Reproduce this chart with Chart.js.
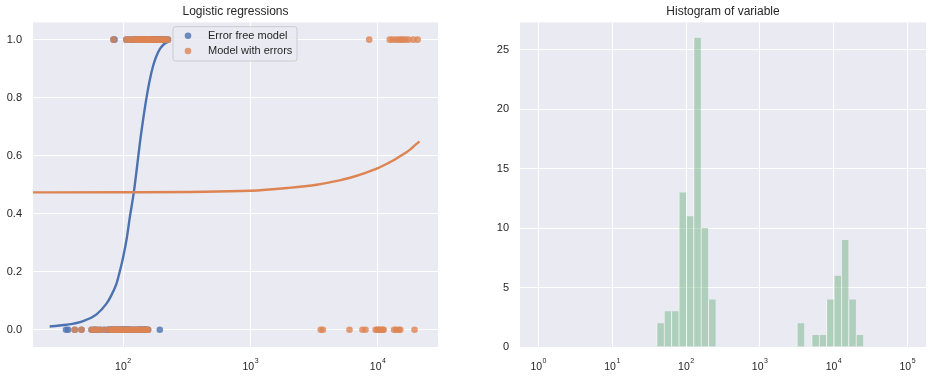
<!DOCTYPE html>
<html><head><meta charset="utf-8">
<script src="https://cdn.jsdelivr.net/npm/chart.js@4/dist/chart.umd.min.js"></script>
<style>
html,body{margin:0;padding:0;background:#fff;}
#wrap{position:relative;width:932px;height:381px;}
.c{position:absolute;top:0;width:466px;height:381px;}
</style></head><body>
<div id="wrap">
<div class="c" style="left:0"><canvas id="left" width="466" height="381"></canvas></div>
<div class="c" style="left:466px"><canvas id="right" width="466" height="381"></canvas></div>
</div>
<script>
// ---------- data ----------
const seriesLabels = ['Error free model', 'Model with errors'];
const leftTitle = 'Logistic regressions';
const rightTitle = 'Histogram of variable';

// values recorded correctly (same in both models)
const cleanValues = [41.7,47.1,56.5,59.5,62.5,66,71,77,80.5,81.5,83,84,85,86.5,88,89.5,91,93,95,97,99,
  101,104,106,108,111,112,116,117,119,123,124,
  126.5,127,128,130,131,132,134,135,136,138,140,140.5,142,144,144.5,146,148,149,150,152,153,154,156,157,157.5,158,
  160,163,166,170,174,178,182,187,192,197,
  203,209,216,225];
const cleanOutcomes = [0,0,0,0,0,0,0,0,0,0,0,1,0,0,0,0,0,0,0,0,0,
  0,0,1,0,1,0,0,1,0,0,1,
  1,0,1,1,0,1,1,0,1,1,0,1,1,0,1,1,1,0,1,1,0,1,1,0,1,1,
  1,1,1,1,1,1,1,1,1,1,
  1,1,1,1];
// values with recording errors: true value and recorded value
const errorTrueValues = [35.6,37,59.85,75.7,80,85.5,96,99,101,103,106,109,111,124,130,134,138,139,145,146,150,152,157,165,174,190,194,205];
const errorRecordedValues = [3560,3700,5985,7570,8000,8550,9600,9900,10100,10300,10600,10900,11100,12400,13000,13400,13800,13900,14500,14600,15000,15200,15700,16500,17400,19000,19400,20500];
const errorOutcomes = [0,0,0,0,0,1,0,0,0,0,0,0,0,1,1,0,1,0,1,0,0,1,1,1,1,1,0,1];

// fitted curves
const errorFreeCurveX = [26.5,35.9,48.5,61.8,74,80,88.7,94,100,107,113,117,121.4,128,135,143,152.6,162,172,182,194.5,210,226];
const errorFreeCurveY = [0.011,0.017,0.030,0.053,0.09,0.115,0.159,0.20,0.25,0.318,0.39,0.43,0.475,0.555,0.64,0.72,0.80,0.862,0.910,0.942,0.968,0.985,0.993];
const withErrorsCurveX = [19.6,100,1000,2000,3310,5000,6050,8000,10000,12000,13270,15000,16900,18000,20000,21240];
const withErrorsCurveY = [0.4736,0.474,0.479,0.489,0.500,0.515,0.524,0.541,0.557,0.574,0.584,0.599,0.613,0.622,0.640,0.649];

// histogram: lower bin edge (log10) and counts, bin width 0.1 in log10
const histBinWidthLog10 = 0.1;
const histBinLowerLog10 = [1.6,1.7,1.8,1.9,2.0,2.1,2.2,2.3,3.5,3.7,3.8,3.9,4.0,4.1,4.2,4.3];
const histCounts = [2,3,3,13,11,26,10,4,2,1,1,4,6,9,4,1];

// ticks
const leftXTicks = [100,1000,10000];
const leftXExponents = ['2','3','4'];
const leftYTicks = [0,0.2,0.4,0.6,0.8,1.0];
const rightXTicks = [1,10,100,1000,10000,100000];
const rightXExponents = ['0','1','2','3','4','5'];
const rightYTicks = [0,5,10,15,20,25];

// ---------- styling ----------
const FONT = "'Liberation Sans', Arial, sans-serif";
const TXT = '#262626';
const BLUE = '#4C72B0', ORANGE = '#DD8452';

const bgPlugin = {
  id: 'plotBg',
  beforeDraw(chart) {
    const a = chart.chartArea, ctx = chart.ctx;
    ctx.save();
    ctx.fillStyle = '#EAEAF2';
    ctx.fillRect(a.left, a.top, a.right - a.left, a.bottom - a.top);
    ctx.restore();
  }
};

const powLabels = {
  id: 'powLabels',
  afterDraw(chart, args, o) {
    const scale = chart.scales.x, ctx = chart.ctx, a = chart.chartArea;
    ctx.save();
    ctx.fillStyle = TXT;
    ctx.textAlign = 'left';
    ctx.textBaseline = 'middle';
    o.ticks.forEach((v, i) => {
      const px = scale.getPixelForValue(v);
      ctx.font = '10.5px ' + FONT;
      const wb = ctx.measureText('10').width;
      ctx.font = '7px ' + FONT;
      const we = ctx.measureText(o.exps[i]).width;
      const x0 = px - (wb + we + 0.5) / 2;
      ctx.font = '10.5px ' + FONT;
      ctx.fillText('10', x0, a.bottom + 20);
      ctx.font = '7px ' + FONT;
      ctx.fillText(o.exps[i], x0 + wb + 0.5, a.bottom + 14);
    });
    ctx.restore();
  }
};

const boxLegend = {
  id: 'boxLegend',
  afterDraw(chart, args, o) {
    const a = chart.chartArea, ctx = chart.ctx;
    const x = a.left + o.dx, y = a.top + o.dy, w = o.w, h = o.h, r = 2.5;
    ctx.save();
    ctx.beginPath();
    ctx.moveTo(x + r, y);
    ctx.lineTo(x + w - r, y); ctx.arcTo(x + w, y, x + w, y + r, r);
    ctx.lineTo(x + w, y + h - r); ctx.arcTo(x + w, y + h, x + w - r, y + h, r);
    ctx.lineTo(x + r, y + h); ctx.arcTo(x, y + h, x, y + h - r, r);
    ctx.lineTo(x, y + r); ctx.arcTo(x, y, x + r, y, r);
    ctx.closePath();
    ctx.fillStyle = 'rgba(234,234,242,0.8)';
    ctx.fill();
    ctx.strokeStyle = '#cccccc';
    ctx.lineWidth = 1;
    ctx.stroke();
    const items = o.items.map(i => chart.data.datasets[i]);
    items.forEach((ds, k) => {
      const cy = y + o.rowY[k];
      ctx.beginPath();
      ctx.arc(x + 15, cy, 3.3, 0, Math.PI * 2);
      ctx.fillStyle = ds.backgroundColor;
      ctx.fill();
      ctx.fillStyle = TXT;
      ctx.font = '11px ' + FONT;
      ctx.textAlign = 'left';
      ctx.textBaseline = 'middle';
      ctx.fillText(ds.label, x + 35, cy);
    });
    ctx.restore();
  }
};

// ---------- build datasets ----------
const toPts = (xs, ys) => xs.map((x, i) => ({x: x, y: ys[i]}));
const blueScatter = toPts(cleanValues, cleanOutcomes).concat(toPts(errorTrueValues, errorOutcomes));
const orangeScatter = toPts(cleanValues, cleanOutcomes).concat(toPts(errorRecordedValues, errorOutcomes));
const blueCurve = toPts(errorFreeCurveX, errorFreeCurveY);
const orangeCurve = toPts(withErrorsCurveX, withErrorsCurveY);
const histData = histBinLowerLog10.map((e, i) => ({x: Math.pow(10, e + histBinWidthLog10 / 2), y: histCounts[i]}));

const gridOpts = {color: '#ffffff', lineWidth: 1, drawTicks: false};
const titleOpts = t => ({display: true, text: t, color: TXT, font: {family: FONT, size: 12, weight: 'normal'},
  padding: {top: 4, bottom: 4}, fullSize: false});

new Chart(document.getElementById('left'), {
  type: 'scatter',
  data: {datasets: [
    {label: seriesLabels[0], type: 'scatter', data: blueScatter, backgroundColor: 'rgba(76,114,176,0.8)',
      pointRadius: 3.3, borderWidth: 0, order: 4},
    {label: seriesLabels[0] + ' fit', type: 'line', data: blueCurve, borderColor: BLUE, borderWidth: 2.4,
      pointRadius: 0, fill: false, cubicInterpolationMode: 'monotone', order: 3},
    {label: seriesLabels[1], type: 'scatter', data: orangeScatter, backgroundColor: 'rgba(221,132,82,0.8)',
      pointRadius: 3.3, borderWidth: 0, order: 2},
    {label: seriesLabels[1] + ' fit', type: 'line', data: orangeCurve, borderColor: ORANGE, borderWidth: 2.4,
      pointRadius: 0, fill: false, cubicInterpolationMode: 'monotone', order: 1}
  ]},
  options: {
    responsive: false, animation: false, events: [],
    layout: {padding: {left: 0, right: 28, top: 0, bottom: 0}},
    plugins: {
      legend: {display: false}, tooltip: {enabled: false},
      title: titleOpts(leftTitle),
      powLabels: {ticks: leftXTicks, exps: leftXExponents},
      boxLegend: {dx: 140, dy: 4.3, w: 124, h: 34.3, rowY: [9, 24.3], items: [0, 2]}
    },
    scales: {
      x: {type: 'logarithmic', min: 19.6, max: 29650,
        afterBuildTicks: s => { s.ticks = leftXTicks.map(v => ({value: v})); },
        ticks: {display: false}, grid: gridOpts, border: {display: false},
        afterFit: s => { s.height = 34; }},
      y: {type: 'linear', min: -0.0595, max: 1.0595,
        afterBuildTicks: s => { s.ticks = leftYTicks.map(v => ({value: v})); },
        ticks: {padding: 11, color: TXT, font: {family: FONT, size: 11}, callback: v => Number(v).toFixed(1)},
        grid: gridOpts, border: {display: false},
        afterFit: s => { s.width = 33; }}
    }
  },
  plugins: [bgPlugin, powLabels, boxLegend]
});

new Chart(document.getElementById('right'), {
  type: 'bar',
  data: {datasets: [
    {label: 'variable', data: histData, backgroundColor: 'rgba(85,168,104,0.4)',
      borderColor: 'rgba(255,255,255,0.45)', borderWidth: {left: 1, right: 0, top: 0, bottom: 0},
      borderSkipped: false, categoryPercentage: 1, barPercentage: 1}
  ]},
  options: {
    responsive: false, animation: false, events: [],
    layout: {padding: {left: 0, right: 6, top: 0, bottom: 0}},
    plugins: {
      legend: {display: false}, tooltip: {enabled: false},
      title: titleOpts(rightTitle),
      powLabels: {ticks: rightXTicks, exps: rightXExponents}
    },
    scales: {
      x: {type: 'logarithmic', min: Math.pow(10, -0.25), max: Math.pow(10, 5.25), offset: false,
        afterBuildTicks: s => { s.ticks = rightXTicks.map(v => ({value: v})); },
        ticks: {display: false}, grid: Object.assign({offset: false}, gridOpts), border: {display: false},
        afterFit: s => { s.height = 34; }},
      y: {type: 'linear', min: 0, max: 27.3,
        afterBuildTicks: s => { s.ticks = rightYTicks.map(v => ({value: v})); },
        ticks: {padding: 11, color: TXT, font: {family: FONT, size: 11}, callback: v => String(v)},
        grid: gridOpts, border: {display: false},
        afterFit: s => { s.width = 54; }}
    }
  },
  plugins: [bgPlugin, powLabels]
});
</script>
</body></html>
